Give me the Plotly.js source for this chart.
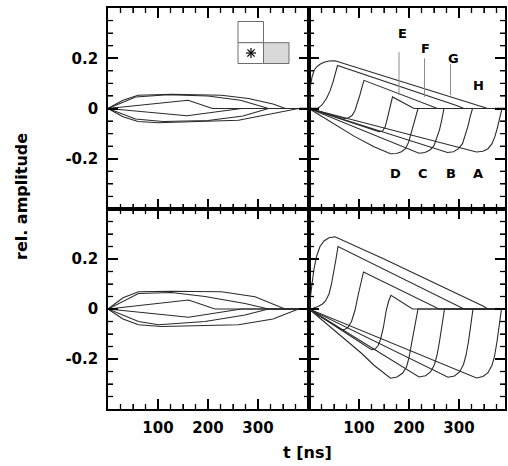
<!DOCTYPE html>
<html>
<head>
<meta charset="utf-8">
<script src="https://cdn.plot.ly/plotly-3.0.1.min.js"></script>
<style>
  html, body { margin: 0; padding: 0; background: #fff; }
  #chart { width: 508px; height: 466px; }
</style>
</head>
<body>
<div id="chart"></div>
<script>
// Transient signals, time in ns, relative amplitude.
// Right-hand panels: eight events A..H.
const rightNames = ['A', 'B', 'C', 'D', 'E', 'F', 'G', 'H'];

const topRightTimes = [
  [0, 335, 348, 358, 366, 372, 377, 381, 384, 386, 392],
  [0, 277, 289, 299, 307, 313, 318, 322, 325, 327, 392],
  [0, 220, 232, 242, 250, 256, 261, 265, 268, 270, 392],
  [0, 45, 90, 130, 163, 175, 185, 193, 199, 204, 209, 214, 218, 392],
  [0, 140, 147, 152, 156, 160, 163, 167, 210, 392],
  [0, 70, 78, 86, 92, 97, 102, 106, 110, 257, 392],
  [0, 8, 16, 26, 35, 42, 48, 53, 57, 295, 310, 392],
  [0, 1, 3, 6, 10, 15, 22, 30, 40, 52, 150, 250, 300, 330, 348, 357, 392]
];
const topRightAmps = [
  [0, -0.173, -0.17, -0.16, -0.14, -0.11, -0.075, -0.04, -0.015, 0, 0],
  [0, -0.175, -0.172, -0.16, -0.14, -0.105, -0.07, -0.035, -0.012, 0, 0],
  [0, -0.178, -0.175, -0.165, -0.148, -0.118, -0.085, -0.05, -0.02, 0, 0],
  [0, -0.056, -0.11, -0.152, -0.18, -0.179, -0.172, -0.16, -0.135, -0.1, -0.06, -0.025, 0, 0],
  [0, -0.092, -0.09, -0.075, -0.045, -0.01, 0.02, 0.046, 0, 0],
  [0, -0.04, -0.038, -0.028, -0.008, 0.02, 0.055, 0.085, 0.112, 0, 0],
  [0, -0.003, -0.002, 0.014, 0.04, 0.07, 0.105, 0.145, 0.171, 0.012, 0, 0],
  [0, 0.04, 0.09, 0.125, 0.15, 0.165, 0.176, 0.184, 0.189, 0.19, 0.13, 0.068, 0.037, 0.018, 0.006, 0, 0]
];

const bottomRightTimes = [
  [0, 335, 348, 358, 366, 371, 376, 380, 383, 385, 392],
  [0, 278, 291, 301, 309, 314, 319, 323, 326, 328, 392],
  [0, 220, 233, 243, 251, 256, 261, 265, 268, 271, 392],
  [0, 60, 105, 130, 163, 176, 187, 195, 200, 205, 210, 214, 218, 392],
  [0, 125, 132, 138, 143, 149, 154, 159, 164, 207, 392],
  [0, 65, 72, 78, 85, 92, 99, 105, 109, 260, 392],
  [0, 8, 18, 27, 33, 40, 45, 50, 54, 58, 295, 310, 392],
  [0, 3, 6, 10, 15, 22, 30, 40, 52, 150, 250, 300, 330, 350, 357, 392]
];
const bottomRightAmps = [
  [0, -0.276, -0.27, -0.255, -0.225, -0.19, -0.13, -0.075, -0.035, 0, 0],
  [0, -0.273, -0.268, -0.252, -0.222, -0.185, -0.13, -0.075, -0.035, 0, 0],
  [0, -0.272, -0.267, -0.252, -0.222, -0.185, -0.13, -0.075, -0.035, 0, 0],
  [0, -0.1, -0.177, -0.225, -0.277, -0.272, -0.257, -0.232, -0.195, -0.14, -0.085, -0.04, 0, 0],
  [0, -0.163, -0.16, -0.147, -0.122, -0.072, -0.01, 0.03, 0.055, 0, 0],
  [0, -0.083, -0.081, -0.073, -0.05, -0.005, 0.062, 0.12, 0.148, 0, 0],
  [0, 0.003, 0.01, 0.02, 0.032, 0.06, 0.1, 0.15, 0.2, 0.25, 0.016, 0, 0],
  [0, 0.04, 0.1, 0.16, 0.21, 0.25, 0.272, 0.285, 0.289, 0.2, 0.104, 0.057, 0.03, 0.01, 0, 0]
];

// Left-hand panels: lens-shaped signals.
const topLeftTimes = [
  [0, 30, 60, 101, 261, 314, 381, 402],
  [0, 55, 110, 200, 270, 321, 402],
  [0, 158, 267, 402],
  [0, 160, 209, 402],
  [0, 55, 120, 200, 265, 321, 402],
  [0, 30, 60, 127, 227, 281, 330, 355, 402]
];
const topLeftAmps = [
  [0, -0.033, -0.052, -0.057, -0.047, -0.027, 0, 0],
  [0, -0.042, -0.052, -0.048, -0.03, 0, 0],
  [0, -0.029, 0, 0],
  [0, 0.033, 0, 0],
  [0, 0.046, 0.055, 0.05, 0.033, 0, 0],
  [0, 0.033, 0.053, 0.057, 0.053, 0.04, 0.018, 0, 0]
];

const bottomLeftTimes = [
  [0, 30, 61, 107, 261, 330, 381, 402],
  [0, 61, 101, 194, 274, 321, 402],
  [0, 161, 267, 402],
  [0, 161, 214, 402],
  [0, 61, 127, 194, 274, 321, 402],
  [0, 30, 61, 127, 227, 294, 354, 402]
];
const bottomLeftAmps = [
  [0, -0.04, -0.063, -0.07, -0.063, -0.04, 0, 0],
  [0, -0.05, -0.063, -0.05, -0.024, 0, 0],
  [0, -0.033, 0, 0],
  [0, 0.036, 0, 0],
  [0, 0.062, 0.066, 0.05, 0.022, 0, 0],
  [0, 0.045, 0.069, 0.071, 0.069, 0.049, 0, 0]
];

// Event letters in the top-right panel and their leader lines
const upperLetters = ['E', 'F', 'G', 'H'];
const upperLetterT = [187, 233, 288, 338];
const upperLetterAmp = [0.297, 0.238, 0.198, 0.092];
const lowerLetters = ['D', 'C', 'B', 'A'];
const lowerLetterT = [173, 228, 283, 338];
const lowerLetterAmp = [-0.257, -0.257, -0.257, -0.257];
const leaderT = [180, 231, 283];
const leaderTop = [0.224, 0.2, 0.178];
const leaderBottom = [0.053, 0.046, 0.053];

// Axis ticks
const xTickVals = [100, 200, 300];
const xTickText = ['100', '200', '300'];
const xMinorVals = [25, 50, 75, 125, 150, 175, 225, 250, 275, 325, 350, 375];
const yTickVals = [-0.2, 0, 0.2];
const yTickText = ['-0.2', '0', '0.2'];
const yMinorVals = [-0.35, -0.3, -0.25, -0.15, -0.1, -0.05, 0.05, 0.1, 0.15, 0.25, 0.3, 0.35];

const leftRange = [0, 402];
const rightRange = [0, 392];
const ampRange = [-0.4, 0.4];

const W = 508, H = 466;
const margin = { l: 108, r: 3, t: 8, b: 57 };
const plotW = W - margin.l - margin.r;
const plotH = H - margin.t - margin.b;
const splitX = 201 / 397;
const splitY = 200 / 401;

const lineColor = '#2a2a2a';
const traces = [];
function addPanel(timesList, ampsList, xa, ya) {
  timesList.forEach((ts, i) => {
    traces.push({
      type: 'scatter', mode: 'lines', x: ts, y: ampsList[i],
      xaxis: xa, yaxis: ya,
      line: { color: lineColor, width: 1.1 }
    });
  });
}
addPanel(bottomLeftTimes, bottomLeftAmps, 'x', 'y');
addPanel(bottomRightTimes, bottomRightAmps, 'x2', 'y2');
addPanel(topLeftTimes, topLeftAmps, 'x3', 'y3');
addPanel(topRightTimes, topRightAmps, 'x4', 'y4');

// Inward tick marks on all four sides of a panel, as broken line traces
// in the panel's own data units (10 px major, 5 px minor).
function addTickMarks(xa, ya, xRange, xFrac, yFrac) {
  const nsPerPx = (xRange[1] - xRange[0]) / (plotW * xFrac);
  const ampPerPx = (ampRange[1] - ampRange[0]) / (plotH * yFrac);
  const build = (xv, yv, len) => {
    const X = [], Y = [];
    const dy = len * ampPerPx, dx = len * nsPerPx;
    xv.filter(v => v < xRange[1]).forEach(v => {
      X.push(v, v, null, v, v, null);
      Y.push(ampRange[0], ampRange[0] + dy, null, ampRange[1], ampRange[1] - dy, null);
    });
    yv.forEach(v => {
      X.push(xRange[0], xRange[0] + dx, null, xRange[1], xRange[1] - dx, null);
      Y.push(v, v, null, v, v, null);
    });
    return { X, Y };
  };
  const major = build(xTickVals, yTickVals, 10);
  const minor = build(xMinorVals, yMinorVals, 5);
  traces.push({ type: 'scatter', mode: 'lines', x: major.X, y: major.Y, xaxis: xa, yaxis: ya,
    connectgaps: false, line: { color: '#000', width: 1.5 } });
  traces.push({ type: 'scatter', mode: 'lines', x: minor.X, y: minor.Y, xaxis: xa, yaxis: ya,
    connectgaps: false, line: { color: '#000', width: 1.3 } });
}
addTickMarks('x', 'y', leftRange, splitX, splitY);
addTickMarks('x2', 'y2', rightRange, 1 - splitX, splitY);
addTickMarks('x3', 'y3', leftRange, splitX, 1 - splitY);
addTickMarks('x4', 'y4', rightRange, 1 - splitX, 1 - splitY);

const fontFamily = 'DejaVu Sans';
const tickFont = { family: fontFamily, size: 15, color: '#000', weight: 'bold' };

function axis(extra) {
  return Object.assign({
    showline: true, linecolor: '#000', linewidth: 1.6, mirror: 'ticks',
    ticks: 'inside', ticklen: 10, tickwidth: 1.6, tickcolor: '#000',
    showgrid: false, zeroline: false, tickfont: tickFont
  }, extra);
}
const xCommon = {
  tickmode: 'array', tickvals: xTickVals, ticktext: xTickText, ticklabelstandoff: 4,
  minor: { ticks: 'inside', ticklen: 5, tickwidth: 1.4, tickcolor: '#000', tick0: 0, dtick: 25 }
};
const yCommon = {
  tickmode: 'array', tickvals: yTickVals, ticktext: yTickText, range: ampRange, ticklabelstandoff: 5,
  minor: { ticks: 'inside', ticklen: 5, tickwidth: 1.4, tickcolor: '#000', tick0: 0, dtick: 0.05 }
};

const shapes = [];
leaderT.forEach((t, i) => shapes.push({
  type: 'line', xref: 'x4', yref: 'y4', x0: t, x1: t, y0: leaderBottom[i], y1: leaderTop[i],
  line: { color: '#8c8c8c', width: 1 }
}));

// Pixel-cell inset (paper coordinates)
const px = v => (v - margin.l) / plotW;
const py = v => (H - margin.b - v) / plotH;
const cellBorder = { color: '#6e6e6e', width: 1 };
shapes.push({ type: 'rect', xref: 'paper', yref: 'paper', x0: px(238), x1: px(263.5), y0: py(42.7), y1: py(21.5), line: cellBorder, fillcolor: '#ffffff' });
shapes.push({ type: 'rect', xref: 'paper', yref: 'paper', x0: px(238), x1: px(263.5), y0: py(63.5), y1: py(42.7), line: cellBorder, fillcolor: '#ffffff' });
shapes.push({ type: 'rect', xref: 'paper', yref: 'paper', x0: px(263.5), x1: px(289), y0: py(63.5), y1: py(42.7), line: cellBorder, fillcolor: '#d9d9d9' });
// asterisk mark in the lower-left cell
const cx = 251, cy = 53, r = 5, d = 3.6;
[[cx - r, cy, cx + r, cy], [cx, cy - r, cx, cy + r], [cx - d, cy - d, cx + d, cy + d], [cx - d, cy + d, cx + d, cy - d]].forEach(s => {
  shapes.push({ type: 'line', xref: 'paper', yref: 'paper', x0: px(s[0]), y0: py(s[1]), x1: px(s[2]), y1: py(s[3]), line: { color: '#000', width: 1.2 } });
});

const letterFont = { family: fontFamily, size: 13, color: '#000', weight: 'bold' };
const annotations = [];
upperLetters.forEach((s, i) => annotations.push({
  text: s, xref: 'x4', yref: 'y4', x: upperLetterT[i], y: upperLetterAmp[i],
  xanchor: 'center', yanchor: 'middle', showarrow: false, font: letterFont
}));
lowerLetters.forEach((s, i) => annotations.push({
  text: s, xref: 'x4', yref: 'y4', x: lowerLetterT[i], y: lowerLetterAmp[i],
  xanchor: 'center', yanchor: 'middle', showarrow: false, font: letterFont
}));
annotations.push({
  text: 'rel. amplitude', xref: 'paper', yref: 'paper', x: px(22), y: py(197),
  xanchor: 'center', yanchor: 'middle', textangle: -90, showarrow: false,
  font: { family: fontFamily, size: 16, color: '#000', weight: 'bold' }
});
annotations.push({
  text: 't [ns]', xref: 'paper', yref: 'paper', x: px(307), y: py(452),
  xanchor: 'center', yanchor: 'middle', showarrow: false,
  font: { family: fontFamily, size: 16, color: '#000', weight: 'bold' }
});

const layout = {
  width: W, height: H,
  margin: margin,
  showlegend: false,
  hovermode: false,
  xaxis: axis(Object.assign({ domain: [0, splitX], range: leftRange, anchor: 'y' }, xCommon)),
  xaxis2: axis(Object.assign({ domain: [splitX, 1], range: rightRange, anchor: 'y2' }, xCommon)),
  xaxis3: axis(Object.assign({ domain: [0, splitX], range: leftRange, anchor: 'y3', showticklabels: false }, xCommon)),
  xaxis4: axis(Object.assign({ domain: [splitX, 1], range: rightRange, anchor: 'y4', showticklabels: false }, xCommon)),
  yaxis: axis(Object.assign({ domain: [0, splitY], anchor: 'x' }, yCommon)),
  yaxis2: axis(Object.assign({ domain: [0, splitY], anchor: 'x2', showticklabels: false }, yCommon)),
  yaxis3: axis(Object.assign({ domain: [splitY, 1], anchor: 'x3' }, yCommon)),
  yaxis4: axis(Object.assign({ domain: [splitY, 1], anchor: 'x4', showticklabels: false }, yCommon)),
  annotations: annotations,
  shapes: shapes
};

Plotly.newPlot('chart', traces, layout, { displayModeBar: false });
</script>
</body>
</html>
